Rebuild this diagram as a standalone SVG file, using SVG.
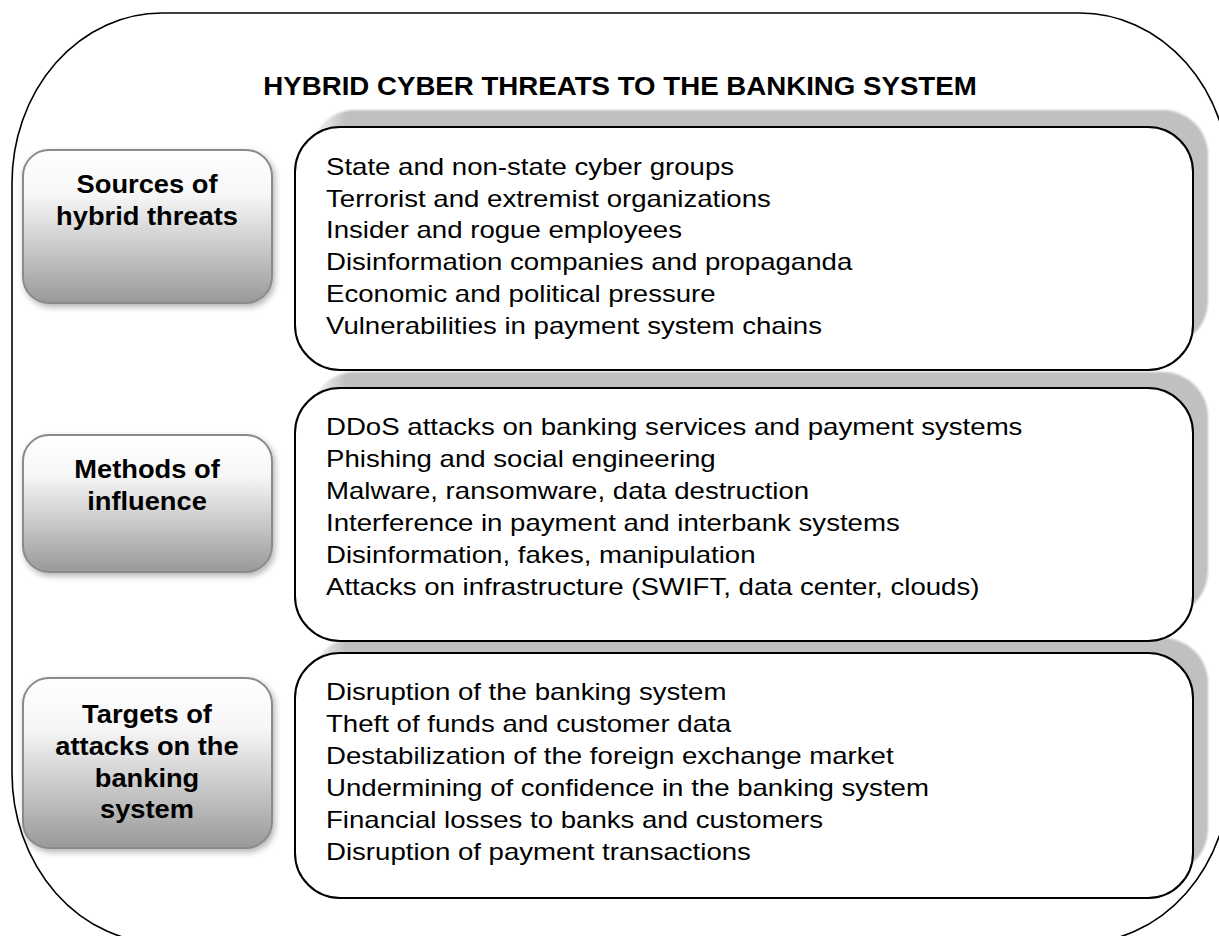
<svg xmlns="http://www.w3.org/2000/svg" width="1219" height="936" viewBox="0 0 1219 936">
  <style>
    .frame { fill: none; stroke: #000; stroke-width: 1.6; }
    .title { font-family: "Liberation Sans", Arial, sans-serif; font-weight: bold; font-size: 25.5px; fill: #000; }
    .label { font-family: "Liberation Sans", Arial, sans-serif; font-weight: bold; font-size: 25.5px; fill: #000; text-anchor: middle; }
    .item { font-family: "Liberation Sans", Arial, sans-serif; font-size: 23.6px; fill: #000; }
    .labelBox { fill: url(#labelFill); stroke: #8a8a8a; stroke-width: 2; filter: url(#softShadow); }
    .listBox { fill: #fff; stroke: #000; stroke-width: 2; }
    .listShade { fill: url(#shadeFill); filter: url(#shadeBlur); }
  </style>
  <defs>
    <linearGradient id="labelFill" x1="0" y1="0" x2="0" y2="1">
      <stop offset="0" stop-color="#ffffff"/>
      <stop offset="0.3" stop-color="#f6f6f6"/>
      <stop offset="1" stop-color="#999999"/>
    </linearGradient>
    <linearGradient id="shadeFill" x1="0" y1="0" x2="1" y2="0">
      <stop offset="0" stop-color="#c0c0c0" stop-opacity="0"/>
      <stop offset="0.04" stop-color="#c0c0c0" stop-opacity="1"/>
      <stop offset="1" stop-color="#c0c0c0" stop-opacity="1"/>
    </linearGradient>
    <filter id="softShadow" x="-10%" y="-10%" width="130%" height="130%">
      <feDropShadow dx="2" dy="3" stdDeviation="3" flood-color="#000" flood-opacity="0.3"/>
    </filter>
    <filter id="shadeBlur" x="-5%" y="-10%" width="110%" height="120%">
      <feGaussianBlur stdDeviation="1.2"/>
    </filter>
  </defs>

  <!-- outer rounded frame -->
  <rect class="frame" x="12" y="13" width="1218" height="930" rx="150" ry="170"/>

  <text class="title" transform="translate(620 95) scale(1.085 1)" text-anchor="middle">HYBRID CYBER THREATS TO THE BANKING SYSTEM</text>

  <!-- raised shading behind the list panels -->
  <g id="shades">
    <rect class="listShade" x="310" y="110" width="898" height="236" rx="45"/>
    <rect class="listShade" x="310" y="372" width="898" height="244" rx="45"/>
    <rect class="listShade" x="310" y="638" width="898" height="236" rx="45"/>
  </g>

  <!-- row 1: sources -->
  <g id="sources-label">
    <rect class="labelBox" x="23" y="150" width="249" height="153" rx="26"/>
    <text class="label" transform="translate(147 193) scale(1.07 1)">Sources of</text>
    <text class="label" transform="translate(147 225) scale(1.07 1)">hybrid threats</text>
  </g>
  <g id="sources-list">
    <rect class="listBox" x="295" y="127" width="898" height="243" rx="45"/>
    <text class="item" transform="translate(326 175) scale(1.17 1)">State and non-state cyber groups</text>
    <text class="item" transform="translate(326 206.7) scale(1.17 1)">Terrorist and extremist organizations</text>
    <text class="item" transform="translate(326 238.4) scale(1.17 1)">Insider and rogue employees</text>
    <text class="item" transform="translate(326 270.1) scale(1.17 1)">Disinformation companies and propaganda</text>
    <text class="item" transform="translate(326 301.8) scale(1.17 1)">Economic and political pressure</text>
    <text class="item" transform="translate(326 333.5) scale(1.17 1)">Vulnerabilities in payment system chains</text>
  </g>

  <!-- row 2: methods -->
  <g id="methods-label">
    <rect class="labelBox" x="23" y="435" width="249" height="137" rx="26"/>
    <text class="label" transform="translate(147 478) scale(1.07 1)">Methods of</text>
    <text class="label" transform="translate(147 510) scale(1.07 1)">influence</text>
  </g>
  <g id="methods-list">
    <rect class="listBox" x="295" y="388" width="898" height="253" rx="45"/>
    <text class="item" transform="translate(326 435) scale(1.17 1)">DDoS attacks on banking services and payment systems</text>
    <text class="item" transform="translate(326 467) scale(1.17 1)">Phishing and social engineering</text>
    <text class="item" transform="translate(326 499) scale(1.17 1)">Malware, ransomware, data destruction</text>
    <text class="item" transform="translate(326 531) scale(1.17 1)">Interference in payment and interbank systems</text>
    <text class="item" transform="translate(326 563) scale(1.17 1)">Disinformation, fakes, manipulation</text>
    <text class="item" transform="translate(326 595) scale(1.17 1)">Attacks on infrastructure (SWIFT, data center, clouds)</text>
  </g>

  <!-- row 3: targets -->
  <g id="targets-label">
    <rect class="labelBox" x="23" y="678" width="249" height="170" rx="26"/>
    <text class="label" transform="translate(147 723) scale(1.07 1)">Targets of</text>
    <text class="label" transform="translate(147 755) scale(1.07 1)">attacks on the</text>
    <text class="label" transform="translate(147 787) scale(1.07 1)">banking</text>
    <text class="label" transform="translate(147 818) scale(1.07 1)">system</text>
  </g>
  <g id="targets-list">
    <rect class="listBox" x="295" y="653" width="898" height="245" rx="45"/>
    <text class="item" transform="translate(326 700) scale(1.17 1)">Disruption of the banking system</text>
    <text class="item" transform="translate(326 732) scale(1.17 1)">Theft of funds and customer data</text>
    <text class="item" transform="translate(326 764) scale(1.17 1)">Destabilization of the foreign exchange market</text>
    <text class="item" transform="translate(326 796) scale(1.17 1)">Undermining of confidence in the banking system</text>
    <text class="item" transform="translate(326 828) scale(1.17 1)">Financial losses to banks and customers</text>
    <text class="item" transform="translate(326 860) scale(1.17 1)">Disruption of payment transactions</text>
  </g>

  <g id="connectors"></g>
</svg>
